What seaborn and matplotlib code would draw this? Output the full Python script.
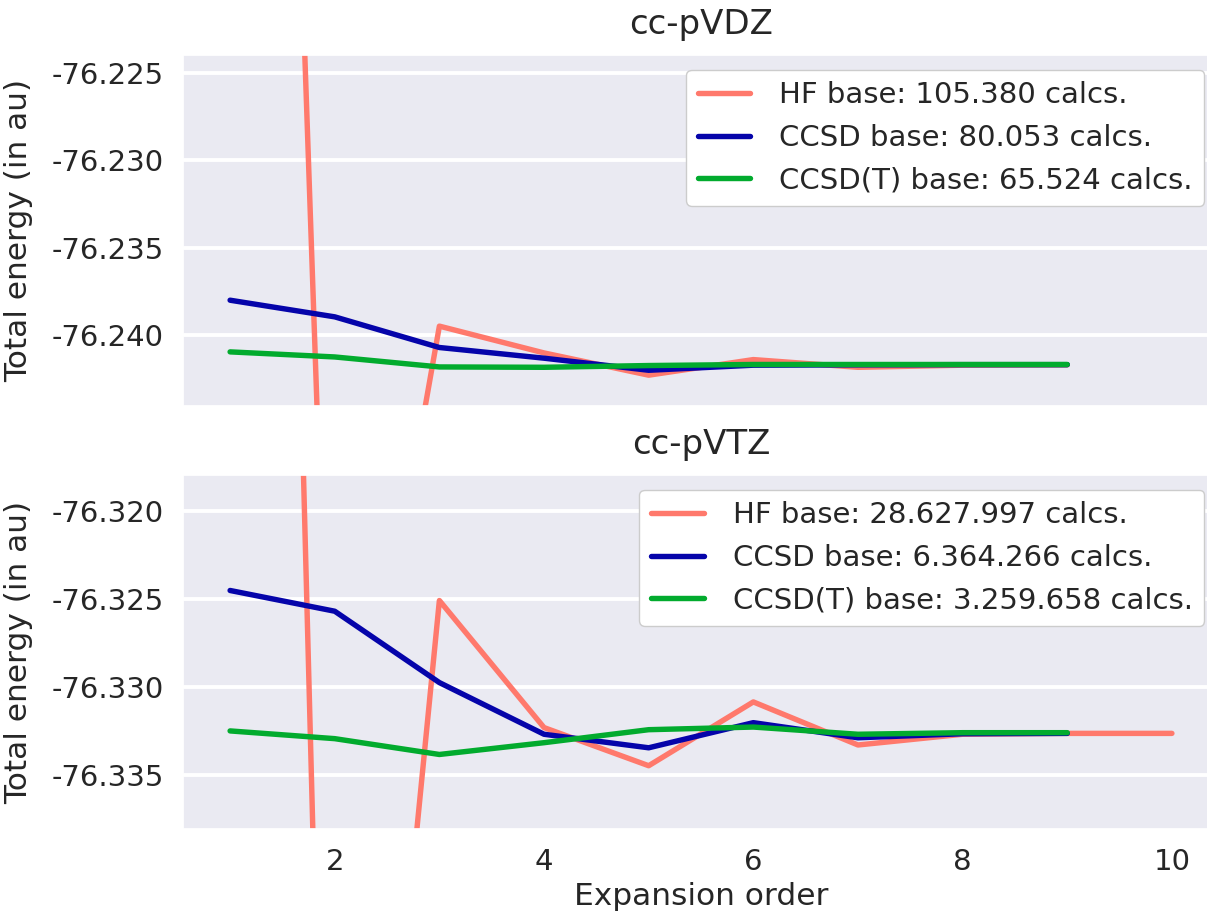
import matplotlib
matplotlib.use("Agg")
import matplotlib.pyplot as plt
import seaborn as sns
import pandas as pd

orders = [1, 2, 3, 4, 5, 6, 7, 8, 9]
orders_tz_hf = [1, 2, 3, 4, 5, 6, 7, 8, 9, 10]

dz_hf = [-76.1009, -76.2733, -76.23947, -76.2410, -76.24227, -76.24138, -76.24182, -76.24170, -76.24168]
dz_ccsd = [-76.23799, -76.23894, -76.24069, -76.2413, -76.24199, -76.24170, -76.24168, -76.24167, -76.24167]
dz_ccsdt = [-76.24094, -76.24123, -76.24180, -76.24182, -76.24172, -76.24166, -76.24166, -76.24166, -76.24166]

tz_hf = [-76.1590, -76.3856, -76.32510, -76.33233, -76.33450, -76.33087, -76.33332, -76.33271, -76.33266, -76.33266]
tz_ccsd = [-76.32453, -76.32571, -76.32977, -76.33271, -76.33348, -76.33205, -76.33291, -76.33268, -76.33266]
tz_ccsdt = [-76.33252, -76.33296, -76.33386, -76.33319, -76.33245, -76.33230, -76.33271, -76.33262, -76.33262]

titles = ["cc-pVDZ", "cc-pVTZ"]
dz_labels = ["HF base: 105.380 calcs.", "CCSD base: 80.053 calcs.", "CCSD(T) base: 65.524 calcs."]
tz_labels = ["HF base: 28.627.997 calcs.", "CCSD base: 6.364.266 calcs.", "CCSD(T) base: 3.259.658 calcs."]
dz_yticks = [-76.225, -76.230, -76.235, -76.240]
tz_yticks = [-76.320, -76.325, -76.330, -76.335]
xticks = [2, 4, 6, 8, 10]

colors = ["#ff796c", "#0504aa", "#02ab2e"]

sns.set_theme(style="darkgrid")
plt.rcParams["font.family"] = ["DejaVu Sans"]

fig = plt.figure(figsize=(12.07, 9.13), dpi=100)
W, H = 1207.0, 913.0
ax1 = fig.add_axes([183 / W, 1 - 406 / H, (1219 - 183) / W, (406 - 55) / H])
ax2 = fig.add_axes([183 / W, 1 - 829 / H, (1219 - 183) / W, (829 - 475) / H], sharex=ax1)

panels = [
    (ax1, [(orders, dz_hf), (orders, dz_ccsd), (orders, dz_ccsdt)], dz_labels, dz_yticks, (-76.24403, -76.22399)),
    (ax2, [(orders_tz_hf, tz_hf), (orders, tz_ccsd), (orders, tz_ccsdt)], tz_labels, tz_yticks, (-76.3381, -76.31796)),
]

for (ax, series, labels, yt, ylim), title in zip(panels, titles):
    for (xs, ys), lab, col in zip(series, labels, colors):
        df = pd.DataFrame({"order": xs, "energy": ys})
        sns.lineplot(data=df, x="order", y="energy", ax=ax, color=col, linewidth=3.9,
                     label=lab, solid_capstyle="round")
    ax.set_ylim(*ylim)
    ax.set_yticks(yt)
    ax.set_yticklabels([f"{v:.3f}" for v in yt])
    ax.set_xlim(0.55, 10.45)
    ax.set_xticks(xticks)
    ax.xaxis.grid(False)
    ax.yaxis.grid(True, color="white", linewidth=2.8)
    ax.tick_params(axis="both", labelsize=21, pad=14, length=0)
    ax.set_title(title, fontsize=24.5, pad=15)
    ax.set_ylabel("Total energy (in au)", fontsize=22.5, labelpad=13)
    ax.set_xlabel("")
    leg = ax.legend(loc="upper right", fontsize=21, frameon=True, facecolor="white",
                    edgecolor="0.8", framealpha=1.0, handlelength=1.8, handletextpad=1.0)
    for line in leg.get_lines():
        line.set_linewidth(3.9)

plt.setp(ax1.get_xticklabels(), visible=False)
ax2.set_xlabel("Expansion order", fontsize=22.5, labelpad=4)

fig.savefig("out.png", dpi=100)
